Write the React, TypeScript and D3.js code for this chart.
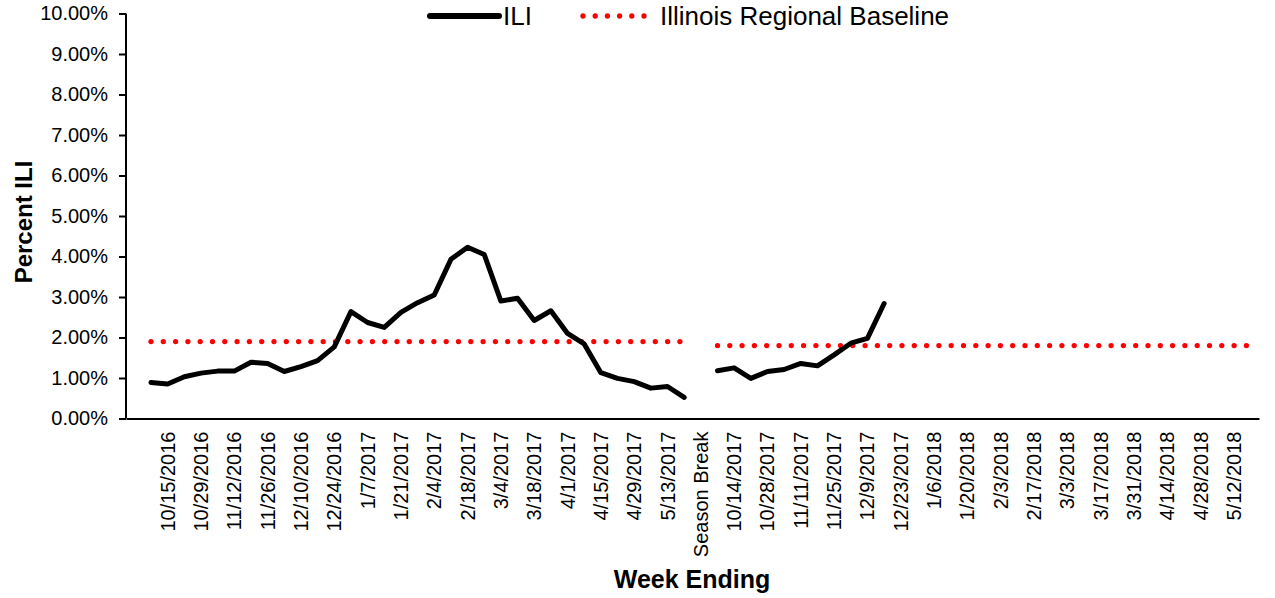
import React, { useRef, useEffect } from 'react';
import * as d3 from 'd3';

// week labels (index 0 is an empty slot before the first week)
const season1Weeks = [
  '10/8/2016', '10/15/2016', '10/22/2016', '10/29/2016', '11/5/2016', '11/12/2016',
  '11/19/2016', '11/26/2016', '12/3/2016', '12/10/2016', '12/17/2016', '12/24/2016',
  '12/31/2016', '1/7/2017', '1/14/2017', '1/21/2017', '1/28/2017', '2/4/2017',
  '2/11/2017', '2/18/2017', '2/25/2017', '3/4/2017', '3/11/2017', '3/18/2017',
  '3/25/2017', '4/1/2017', '4/8/2017', '4/15/2017', '4/22/2017', '4/29/2017',
  '5/6/2017', '5/13/2017', '5/20/2017',
];
const season2Weeks = [
  '10/7/2017', '10/14/2017', '10/21/2017', '10/28/2017', '11/4/2017', '11/11/2017',
  '11/18/2017', '11/25/2017', '12/2/2017', '12/9/2017', '12/16/2017', '12/23/2017',
  '12/30/2017', '1/6/2018', '1/13/2018', '1/20/2018', '1/27/2018', '2/3/2018',
  '2/10/2018', '2/17/2018', '2/24/2018', '3/3/2018', '3/10/2018', '3/17/2018',
  '3/24/2018', '3/31/2018', '4/7/2018', '4/14/2018', '4/21/2018', '4/28/2018',
  '5/5/2018', '5/12/2018', '5/19/2018',
];
const categories = ['', ...season1Weeks, 'Season Break', ...season2Weeks];

// percent ILI
const ili1 = [
  0.89, 0.85, 1.03, 1.12, 1.17, 1.17, 1.39, 1.36, 1.16, 1.28, 1.43, 1.77,
  2.64, 2.37, 2.25, 2.62, 2.86, 3.05, 3.93, 4.23, 4.05, 2.9, 2.97, 2.42,
  2.66, 2.1, 1.84, 1.13, 0.99, 0.91, 0.75, 0.79, 0.52,
];
const ili2 = [1.18, 1.25, 0.99, 1.16, 1.21, 1.36, 1.3, 1.57, 1.86, 1.98, 2.84];

const baseline1 = 1.9;
const baseline2 = 1.8;

const yTicks = [0, 1, 2, 3, 4, 5, 6, 7, 8, 9, 10];

type Pt = { cat: string; v: number | null };

const App: React.FC = () => {
  const svgRef = useRef<SVGSVGElement>(null);

  useEffect(() => {
    const width = 1275;
    const height = 598;
    const margin = { left: 126, right: 16, top: 13.5, bottom: 179.5 };

    const svg = d3.select(svgRef.current);
    svg.selectAll('*').remove();

    const x = d3
      .scaleBand<string>()
      .domain(categories)
      .range([margin.left, width - margin.right])
      .padding(0);
    const cx = (c: string) => (x(c) as number) + x.bandwidth() / 2;
    const y = d3
      .scaleLinear()
      .domain([0, 10])
      .range([height - margin.bottom, margin.top]);

    const iliData: Pt[] = categories.map((c, i) => {
      if (i >= 1 && i <= season1Weeks.length) return { cat: c, v: ili1[i - 1] };
      const j = i - season1Weeks.length - 2;
      if (j >= 0 && j < ili2.length) return { cat: c, v: ili2[j] };
      return { cat: c, v: null };
    });
    const baseData: Pt[] = categories.map((c, i) => {
      if (i >= 1 && i <= season1Weeks.length) return { cat: c, v: baseline1 };
      if (i >= season1Weeks.length + 2) return { cat: c, v: baseline2 };
      return { cat: c, v: null };
    });

    const line = d3
      .line<Pt>()
      .defined((d) => d.v !== null)
      .x((d) => cx(d.cat))
      .y((d) => y(d.v as number));

    const font = 'Liberation Sans, Arial, sans-serif';

    // y axis
    const yAxis = svg
      .append('g')
      .attr('transform', `translate(${margin.left},0)`)
      .call(
        d3
          .axisLeft(y)
          .tickValues(yTicks)
          .tickSize(7)
          .tickPadding(11)
          .tickFormat((d) => d3.format('.2%')((d as number) / 100))
      );
    yAxis.select('.domain').attr('stroke', '#000').attr('stroke-width', 2).attr('d', `M0,${y(10)}V${y(0)}`);
    yAxis.selectAll('line').attr('stroke', '#000').attr('stroke-width', 2);
    yAxis
      .selectAll('text')
      .attr('font-family', font)
      .attr('font-size', 20)
      .attr('fill', '#000');

    // x axis
    const xAxis = svg
      .append('g')
      .attr('transform', `translate(0,${y(0)})`)
      .call(
        d3
          .axisBottom(x)
          .tickSize(0)
          .tickFormat((d, i) => (i % 2 === 0 ? d : ''))
      );
    xAxis.select('.domain').attr('stroke', '#000').attr('stroke-width', 2);
    xAxis
      .selectAll('text')
      .attr('font-family', font)
      .attr('font-size', 20)
      .attr('fill', '#000')
      .attr('text-anchor', 'end')
      .attr('transform', 'rotate(-90)')
      .attr('x', -13)
      .attr('y', 0)
      .attr('dy', '0.35em');

    // baseline (dotted)
    svg
      .append('path')
      .datum(baseData)
      .attr('d', line)
      .attr('fill', 'none')
      .attr('stroke', '#ff0000')
      .attr('stroke-width', 5.3)
      .attr('stroke-linecap', 'round')
      .attr('stroke-dasharray', '0 12.3');

    // ILI
    svg
      .append('path')
      .datum(iliData)
      .attr('d', line)
      .attr('fill', 'none')
      .attr('stroke', '#000')
      .attr('stroke-width', 5)
      .attr('stroke-linejoin', 'round')
      .attr('stroke-linecap', 'round');

    // axis titles
    svg
      .append('text')
      .attr('transform', `translate(32,${(y(0) + y(10)) / 2 + 6}) rotate(-90)`)
      .attr('text-anchor', 'middle')
      .attr('font-family', font)
      .attr('font-size', 24)
      .attr('font-weight', 'bold')
      .text('Percent ILI');
    svg
      .append('text')
      .attr('x', 692)
      .attr('y', 588)
      .attr('text-anchor', 'middle')
      .attr('font-family', font)
      .attr('font-size', 25)
      .attr('font-weight', 'bold')
      .text('Week Ending');

    // legend
    const legend = svg.append('g').attr('font-family', font).attr('font-size', 26);
    legend
      .append('line')
      .attr('x1', 430)
      .attr('x2', 499)
      .attr('y1', 16)
      .attr('y2', 16)
      .attr('stroke', '#000')
      .attr('stroke-width', 6)
      .attr('stroke-linecap', 'round');
    legend.append('text').attr('x', 503).attr('y', 25).text('ILI');
    legend
      .append('line')
      .attr('x1', 583)
      .attr('x2', 645)
      .attr('y1', 16)
      .attr('y2', 16)
      .attr('stroke', '#ff0000')
      .attr('stroke-width', 5.3)
      .attr('stroke-linecap', 'round')
      .attr('stroke-dasharray', '0 12.2');
    legend.append('text').attr('x', 660).attr('y', 25).text('Illinois Regional Baseline');
  }, []);

  return (
    <svg
      ref={svgRef}
      width={1275}
      height={598}
      style={{ position: 'absolute', left: 0, top: 0, background: '#fff' }}
    />
  );
};

export default App;
